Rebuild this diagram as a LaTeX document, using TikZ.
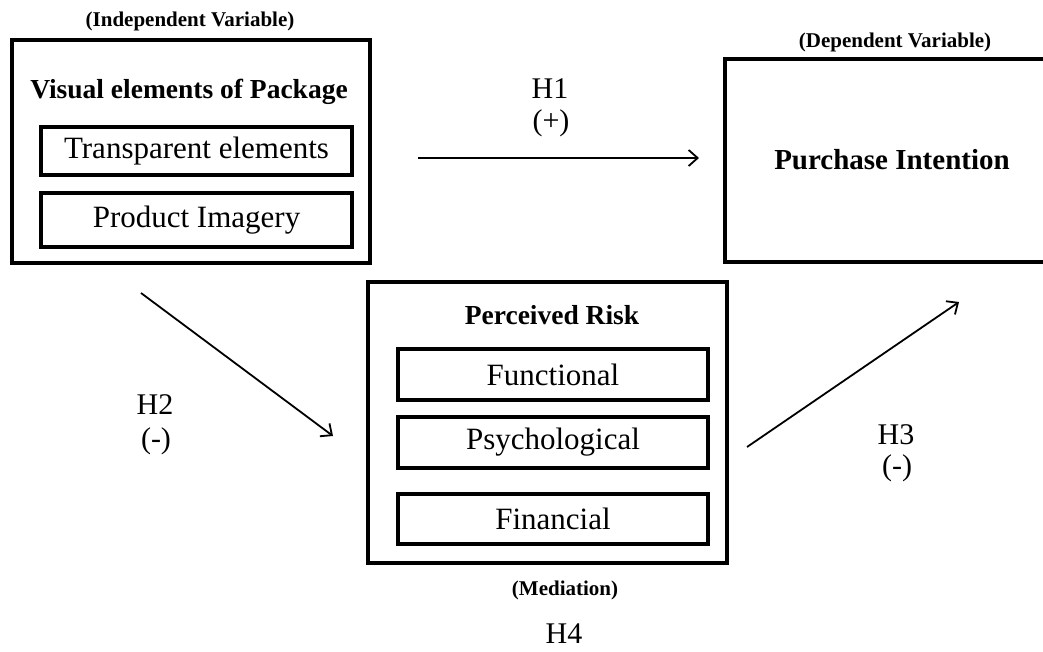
\documentclass[tikz,border=0pt]{standalone}
\usepackage{fontspec}
\setmainfont{Liberation Serif}
\usetikzlibrary{arrows.meta}
\begin{document}
\begin{tikzpicture}[x=1pt,y=-1pt,
  outerbox/.style={draw,line width=3.2pt,minimum width=#1,inner sep=0pt},
  itembox/.style={draw,line width=3.2pt,minimum width=311pt,inner sep=0pt,
    font=\fontsize{31}{36}\selectfont},
  heading/.style={font=\fontsize{27.5}{32}\selectfont\bfseries,inner sep=0pt},
  tag/.style={font=\fontsize{21}{24}\selectfont\bfseries,inner sep=0pt},
  hyp/.style={font=\fontsize{30}{34}\selectfont,inner sep=0pt},
  link/.style={line width=1.8pt,-{Straight Barb[length=9pt,width=16pt,line width=1.8pt]}}]
\useasboundingbox (0,0) rectangle (1043,651);
\clip (0,0) rectangle (1043,651);

% Independent variable block
\node[outerbox=358pt,minimum height=223pt] (iv) at (191,151.5) {};
\node[tag] (ivtag) at (190,21) {(Independent Variable)};
\node[heading] (ivhead) at (189,92) {Visual elements of Package};
\node[itembox,minimum height=48pt] (trans) at (196.5,151) {Transparent elements};
\node[itembox,minimum height=54pt] (img) at (196.5,220) {Product Imagery};

% Dependent variable block (runs past the right edge)
\node[outerbox=325pt,minimum height=203pt] (dv) at (887.5,160.5) {};
\node[heading,font=\fontsize{29}{34}\selectfont\bfseries] (dvhead) at (892,160) {Purchase Intention};
\node[tag] (dvtag) at (895,42) {(Dependent Variable)};

% Mediator block
\node[outerbox=359pt,minimum height=281pt] (med) at (547.5,422.5) {};
\node[heading] (medhead) at (552,315) {Perceived Risk};
\node[itembox,minimum width=310pt,minimum height=51pt] (func) at (553,374.5) {Functional};
\node[itembox,minimum width=310pt,minimum height=51pt] (psy) at (553,442.5) {Psychological};
\node[itembox,minimum width=310pt,minimum height=50pt] (fin) at (553,519) {Financial};
\node[tag] (medtag) at (565,590) {(Mediation)};
\node[hyp] (h4) at (564,634) {H4};

% Hypothesised paths
\coordinate (h1s) at (418,158);
\coordinate (h1e) at (699,158);
\coordinate (h2s) at (141,293);
\coordinate (h2e) at (333,436);
\coordinate (h3s) at (747,447);
\coordinate (h3e) at (959,302);
\draw[link] (h1s) -- (h1e);
\draw[link] (h2s) -- (h2e);
\draw[link] (h3s) -- (h3e);

\node[hyp] (h1) at (550,89) {H1};
\node[hyp] (h1sg) at (551,123) {(+)};
\node[hyp] (h2) at (155,405) {H2};
\node[hyp] (h2sg) at (156,441) {(-)};
\node[hyp] (h3) at (896,435) {H3};
\node[hyp] (h3sg) at (897,468) {(-)};
\end{tikzpicture}
\end{document}
